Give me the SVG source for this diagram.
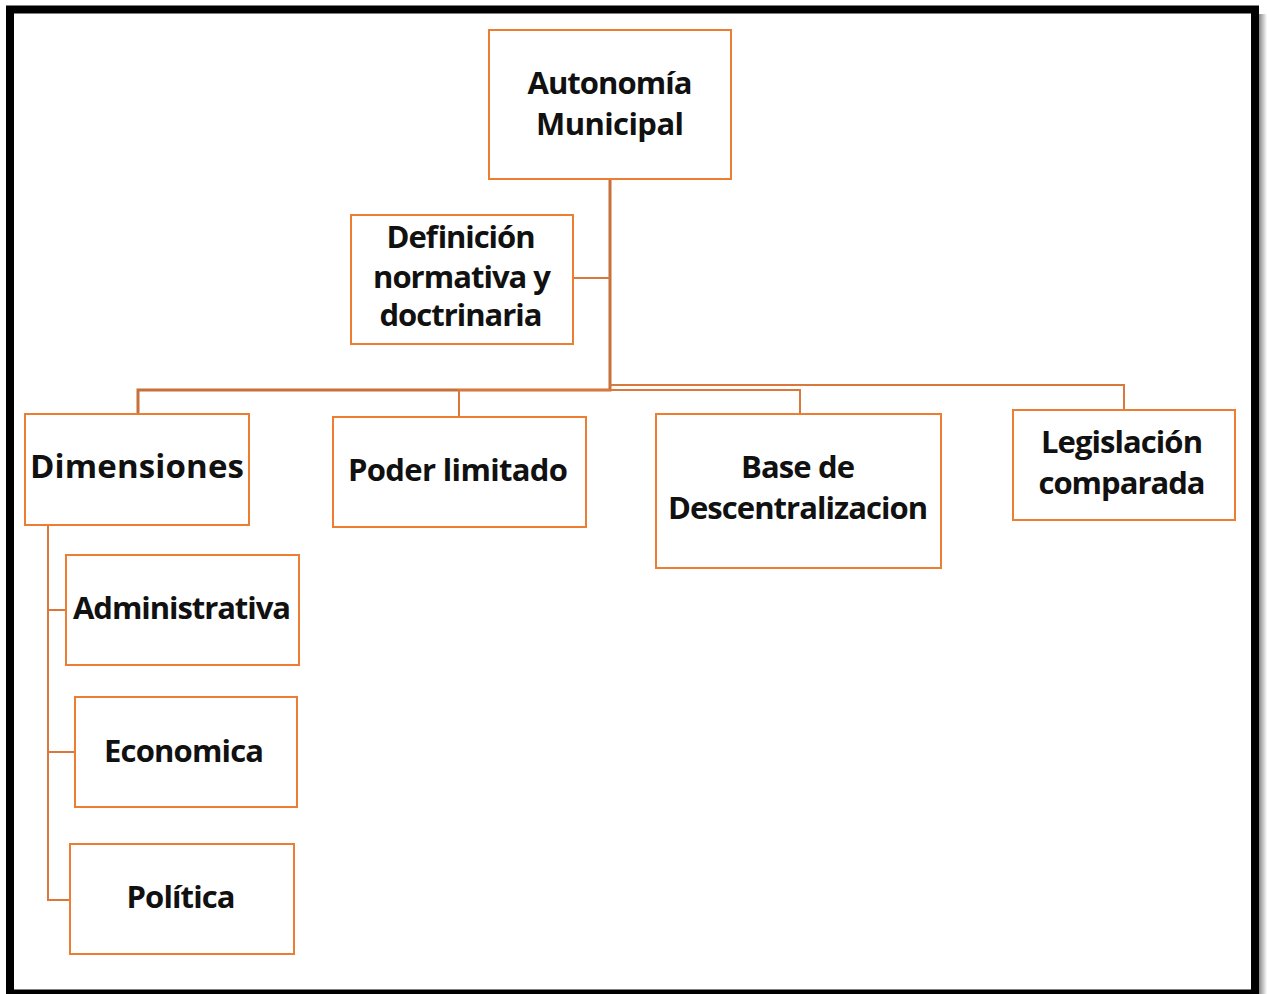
<svg xmlns="http://www.w3.org/2000/svg" width="1267" height="994" viewBox="0 0 1267 994">
<defs>
<linearGradient id="sh" x1="0" x2="1" y1="0" y2="0"><stop offset="0" stop-color="#888"/><stop offset="1" stop-color="#fff"/></linearGradient>
<style>
.box{fill:#fff;stroke:#ED7D31;stroke-width:2}
.ln{fill:none;stroke:#D9783A;stroke-width:2}
.tk{fill:none;stroke:#C8703A;stroke-width:3}
text{font-family:"Open Sans",Lato,"Liberation Sans",sans-serif;font-weight:bold;font-size:31px;fill:#111;text-anchor:middle}
</style>
</defs>
<rect x="0" y="0" width="1267" height="994" fill="#fff"/>
<rect x="1259" y="14" width="8" height="980" fill="url(#sh)"/>
<rect x="10" y="9.5" width="1245" height="984" fill="none" stroke="#000" stroke-width="8"/>
<g id="connectors">
<path class="tk" d="M610 179 V390 H138 V414"/>
<path class="ln" d="M573 278 H610"/>
<path class="ln" d="M610 385 H1124 V410"/>
<path class="ln" d="M459 417 V390 H800 V414"/>
<path class="ln" d="M48 525 V900 H70 M48 610 H66 M48 752 H75"/>
</g>
<g id="n-autonomia"><rect class="box" x="489" y="30" width="242" height="149"/><text x="610" y="94" textLength="165">Autonomía</text><text x="610" y="135" textLength="148">Municipal</text></g>
<g id="n-definicion"><rect class="box" x="351" y="215" width="222" height="129"/><text x="461" y="248" textLength="149">Definición</text><text x="462" y="288" textLength="178">normativa y</text><text x="461" y="326" textLength="163">doctrinaria</text></g>
<g id="n-dimensiones"><rect class="box" x="25" y="414" width="224" height="111"/><text x="137" y="478" style="font-size:33px" textLength="214">Dimensiones</text></g>
<g id="n-poder"><rect class="box" x="333" y="417" width="253" height="110"/><text x="458" y="481" textLength="220">Poder limitado</text></g>
<g id="n-base"><rect class="box" x="656" y="414" width="285" height="154"/><text x="798" y="478" textLength="114">Base de</text><text x="798" y="519" textLength="260">Descentralizacion</text></g>
<g id="n-legislacion"><rect class="box" x="1013" y="410" width="222" height="110"/><text x="1122" y="453" textLength="162">Legislación</text><text x="1122" y="494" textLength="167">comparada</text></g>
<g id="n-administrativa"><rect class="box" x="66" y="555" width="233" height="110"/><text x="182" y="619" textLength="218">Administrativa</text></g>
<g id="n-economica"><rect class="box" x="75" y="697" width="222" height="110"/><text x="184" y="762" textLength="160">Economica</text></g>
<g id="n-politica"><rect class="box" x="70" y="844" width="224" height="110"/><text x="181" y="908" textLength="109">Política</text></g>
</svg>
